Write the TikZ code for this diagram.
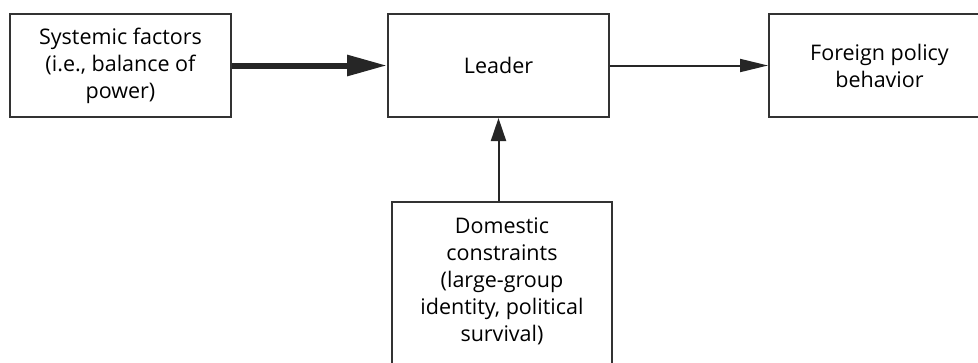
\documentclass[tikz,border=0pt]{standalone}
\usepackage{fontspec}
\setmainfont{Open Sans}
\usetikzlibrary{arrows.meta}
\begin{document}
\begin{tikzpicture}[x=1pt,y=-1pt,
  boxline/.style={draw=black!80, line width=2pt},
  box/.style={boxline, fill=white, align=center, inner sep=0pt,
    minimum width=221pt, minimum height=103pt,
    font=\fontsize{21.5}{27}\selectfont},
  txt/.style={align=center, inner sep=0pt, font=\fontsize{21.5}{27}\selectfont},
  link/.style={draw=black!85, line width=2pt}
]
\useasboundingbox (0,0) rectangle (978,362);
\clip (0,0) rectangle (978,362);
\node[box] (sys) at (120.5,65.5) {Systemic factors\\(i.e., balance of\\power)};
\node[box] (lead) at (498.5,65.5) {Leader};
\node[box] (for) at (879.5,65.5) {Foreign policy\\behavior};
\node[box, minimum width=220pt, minimum height=200pt, anchor=north] (dom) at (502,201) {};
\node[txt, anchor=north] (domtext) at ([yshift=-17pt]dom.north) {Domestic\\constraints\\(large-group\\identity, political\\survival)};
\draw[link, line width=6pt, -{Triangle[length=40pt,width=20pt]}] (sys.east) -- (lead.west);
\draw[link, -{Triangle[length=28pt,width=13pt]}] (lead.east) -- (for.west);
\draw[link, -{Triangle[length=23pt,width=15pt]}] (dom.north -| lead.south) -- (lead.south);
\end{tikzpicture}
\end{document}
